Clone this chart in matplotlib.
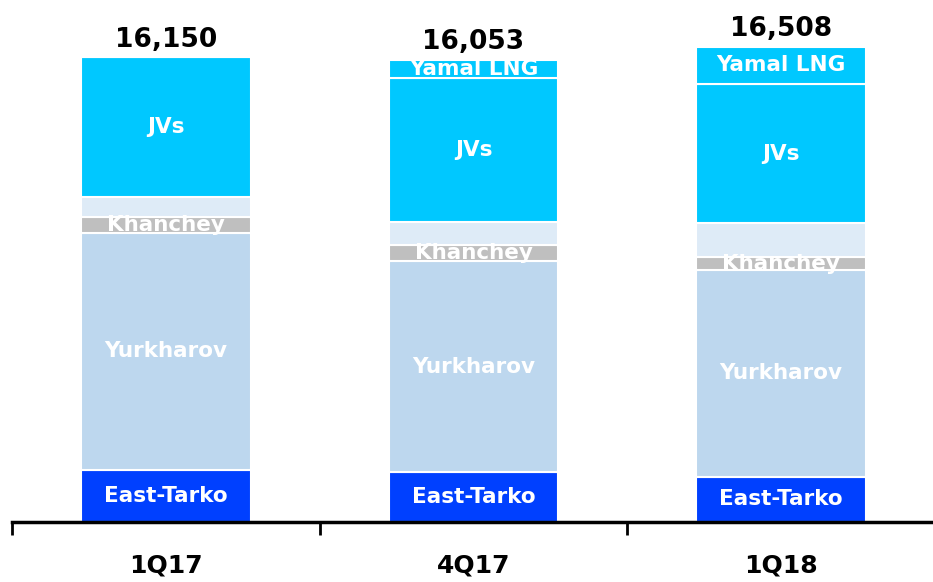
import matplotlib.pyplot as plt

quarters = ["1Q17", "4Q17", "1Q18"]
totals = ["16,150", "16,053", "16,508"]

# segment values, bottom to top
east_tarko = [1806, 1736, 1563]
yurkharov = [8231, 7328, 7189]
khanchey = [556, 556, 451]
other = [695, 799, 1181]
jvs = [4862, 5001, 4827]
yamal = [0, 633, 1297]

segments = [
    ("East-Tarko", east_tarko, "#0040FF"),
    ("Yurkharov", yurkharov, "#BDD7EE"),
    ("Khanchey", khanchey, "#BFBFBF"),
    ("", other, "#DEEBF7"),
    ("JVs", jvs, "#00C8FF"),
    ("Yamal LNG", yamal, "#00C8FF"),
]

plt.rcParams["font.family"] = ["DejaVu Sans"]
fig = plt.figure(figsize=(9.33, 5.82), dpi=100)
ax = fig.add_axes([12 / 933, 60 / 582, 923 / 933, 489.5 / 582])

x = range(len(quarters))
bottom = [0, 0, 0]
for name, vals, color in segments:
    ax.bar(x, vals, width=0.552, bottom=bottom, color=color,
           edgecolor="white", linewidth=1.5)
    if name:
        for i, v in enumerate(vals):
            if v > 0:
                ax.text(i, bottom[i] + v / 2, name, ha="center", va="center",
                        color="white", fontsize=15.5, fontweight="bold")
    bottom = [b + v for b, v in zip(bottom, vals)]

for i, t in enumerate(totals):
    ax.text(i, bottom[i] + 150, t, ha="center", va="bottom",
            fontsize=19, fontweight="bold", color="black")

ax.set_xlim(-0.5, 2.5)
ax.set_ylim(0, 17000)
ax.set_xticks(list(x))
ax.set_xticklabels(quarters, fontsize=18, fontweight="bold")
ax.set_xticks([-0.5, 0.5, 1.5, 2.5], minor=True)
ax.tick_params(axis="x", which="major", length=0, pad=23)
ax.tick_params(axis="x", which="minor", length=9, width=2, direction="out")
ax.set_yticks([])
for s in ["top", "right", "left"]:
    ax.spines[s].set_visible(False)
ax.spines["bottom"].set_linewidth(2.5)

fig.savefig("out.png", dpi=100)
